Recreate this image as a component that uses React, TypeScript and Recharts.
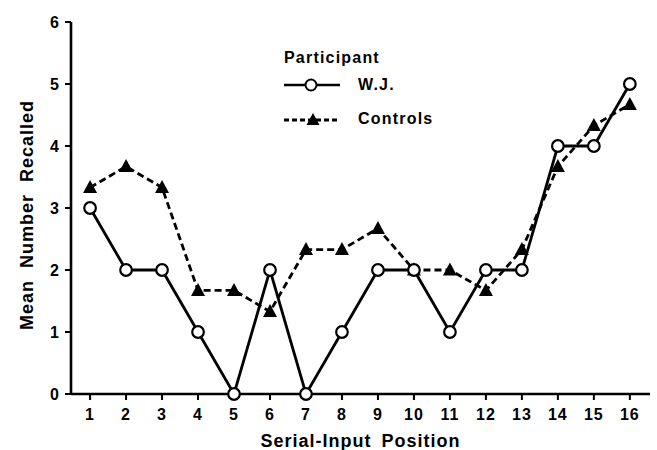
import React from "react";
import {
  LineChart,
  Line,
  XAxis,
  YAxis,
  Legend,
} from "recharts";

const positions = [1, 2, 3, 4, 5, 6, 7, 8, 9, 10, 11, 12, 13, 14, 15, 16];
const wjValues = [3, 2, 2, 1, 0, 2, 0, 1, 2, 2, 1, 2, 2, 4, 4, 5];
const controlValues = [
  3.33, 3.67, 3.33, 1.67, 1.67, 1.33, 2.33, 2.33, 2.67, 2, 2, 1.67, 2.33, 3.67,
  4.33, 4.67,
];
const yTicks = [0, 1, 2, 3, 4, 5, 6];

const data = positions.map((p, i) => ({
  pos: p,
  wj: wjValues[i],
  controls: controlValues[i],
}));

const FONT = '"Liberation Sans", Arial, Helvetica, sans-serif';
const tickStyle = {
  fontSize: 16,
  fill: "#000",
  fontWeight: "bold" as const,
  fontFamily: FONT,
  letterSpacing: 1,
};

const Circle = (props: any) => {
  const { cx, cy } = props;
  if (cx == null || cy == null) return null;
  return <circle cx={cx} cy={cy} r={5.8} fill="#fff" stroke="#000" strokeWidth={2.2} />;
};

const Triangle = (props: any) => {
  const { cx, cy } = props;
  if (cx == null || cy == null) return null;
  return (
    <polygon
      points={`${cx},${cy - 7.5} ${cx - 7},${cy + 5.5} ${cx + 7},${cy + 5.5}`}
      fill="#000"
    />
  );
};

const LegendBox = () => (
  <div style={{ fontFamily: FONT, fontWeight: "bold", color: "#000" }}>
    <div style={{ fontSize: 16, letterSpacing: 1.2, lineHeight: "20px" }}>Participant</div>
    <div style={{ display: "flex", alignItems: "center", height: 30, marginTop: 2 }}>
      <svg width={58} height={16}>
        <line x1={0} y1={8} x2={56} y2={8} stroke="#000" strokeWidth={2.6} />
        <circle cx={27} cy={8} r={5.5} fill="#fff" stroke="#000" strokeWidth={2} />
      </svg>
      <span style={{ marginLeft: 16, fontSize: 16, letterSpacing: 1.2 }}>W.J.</span>
    </div>
    <div style={{ display: "flex", alignItems: "center", height: 30, marginTop: 4 }}>
      <svg width={58} height={16}>
        <line x1={0} y1={9} x2={56} y2={9} stroke="#000" strokeWidth={2.8} strokeDasharray="5 3" />
        <polygon points="29,2 22.5,14 35.5,14" fill="#000" />
      </svg>
      <span style={{ marginLeft: 16, fontSize: 16, letterSpacing: 1.2 }}>Controls</span>
    </div>
  </div>
);

export default function App() {
  return (
    <div style={{ position: "absolute", left: 0, top: 0, background: "#fff" }}>
      <LineChart
        width={657}
        height={450}
        data={data}
        margin={{ top: 22, right: 7, left: 0, bottom: 0 }}
      >
        <XAxis
          dataKey="pos"
          type="number"
          domain={[0.47, 16.56]}
          ticks={positions}
          interval={0}
          height={56}
          tickSize={6}
          tickMargin={9}
          tick={tickStyle}
          axisLine={{ stroke: "#000", strokeWidth: 2.6 }}
          tickLine={{ stroke: "#000", strokeWidth: 2 }}
          label={{
            value: "Serial-Input Position",
            position: "insideBottom",
            offset: 3,
            style: {
              fontSize: 18,
              fontWeight: "bold",
              fontFamily: FONT,
              fill: "#000",
              letterSpacing: 1,
              wordSpacing: 4,
            },
          }}
        />
        <XAxis
          xAxisId="top"
          dataKey="pos"
          type="number"
          domain={[0.47, 16.56]}
          orientation="top"
          height={0}
          tick={false}
          tickLine={false}
          axisLine={{ stroke: "#000", strokeWidth: 1.8 }}
        />
        <YAxis
          type="number"
          domain={[0, 6]}
          ticks={yTicks}
          interval={0}
          width={71}
          tickSize={6}
          tickMargin={5}
          tick={tickStyle}
          axisLine={{ stroke: "#000", strokeWidth: 2.6 }}
          tickLine={{ stroke: "#000", strokeWidth: 2 }}
          label={{
            value: "Mean Number Recalled",
            angle: -90,
            position: "insideLeft",
            offset: 27,
            dy: 7,
            style: {
              textAnchor: "middle",
              fontSize: 18,
              fontWeight: "bold",
              fontFamily: FONT,
              fill: "#000",
              letterSpacing: 1,
              wordSpacing: 6,
            },
          }}
        />
        <YAxis
          yAxisId="right"
          orientation="right"
          domain={[0, 6]}
          width={0}
          tick={false}
          tickLine={false}
          axisLine={{ stroke: "#000", strokeWidth: 1.8 }}
        />
        <Legend
          layout="vertical"
          align="center"
          verticalAlign="middle"
          content={() => <LegendBox />}
          wrapperStyle={{ left: 284, top: 48, width: 200 }}
        />
        <Line
          dataKey="controls"
          name="Controls"
          stroke="#000"
          strokeWidth={2.8}
          strokeDasharray="7 4"
          dot={<Triangle />}
          activeDot={false}
          isAnimationActive={false}
        />
        <Line
          dataKey="wj"
          name="W.J."
          stroke="#000"
          strokeWidth={2.8}
          dot={<Circle />}
          activeDot={false}
          isAnimationActive={false}
        />
      </LineChart>
    </div>
  );
}
